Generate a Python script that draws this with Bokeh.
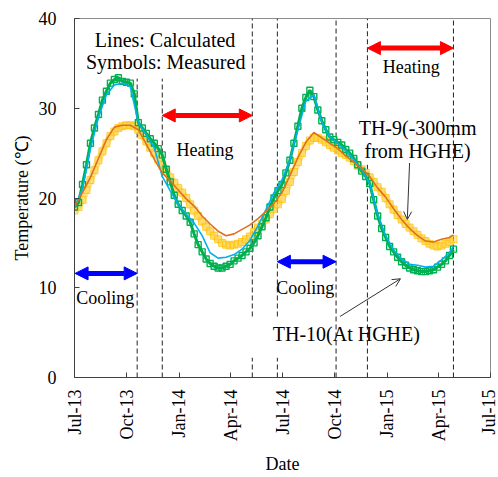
import pandas as pd
from bokeh.plotting import figure
from bokeh.models import (Label, Arrow, NormalHead, OpenHead, FixedTicker,
                          DatetimeTickFormatter, Range1d)
from bokeh.embed import file_html
from bokeh.resources import INLINE

START = "2013-07-01"

# Measured (symbols), weekly days from start
meas_days = list(range(0, 666, 7))
th10_meas = [19.0, 19.5, 21.5, 23.7, 26.1, 27.8, 29.3, 30.9, 31.9, 32.8,
             33.2, 33.4, 33.0, 32.9, 32.8, 31.6, 28.4, 27.8, 27.2, 26.6,
             26.1, 25.5, 24.8, 23.2, 21.8, 20.3, 19.3, 18.6, 18.0, 17.3,
             16.0, 14.8, 14.0, 13.2, 12.7, 12.4, 12.2, 12.2, 12.4, 12.6,
             13.0, 13.3, 13.6, 14.0, 14.4, 15.0, 15.8, 16.8, 17.8, 19.0,
             20.0, 20.8, 21.5, 22.8, 24.2, 26.1, 28.0, 30.0, 31.2, 32.0,
             31.3, 29.8, 28.6, 27.6, 26.8, 26.5, 26.2, 25.9, 25.4, 25.0,
             24.4, 23.7, 23.0, 22.4, 21.6, 19.8, 18.0, 16.6, 15.6, 14.6,
             14.0, 13.4, 12.9, 12.5, 12.2, 12.0, 11.9, 11.8, 11.8, 11.9,
             12.0, 12.3, 12.6, 13.0, 13.6, 14.3]
th9_meas = [18.6, 19.0, 19.8, 20.9, 22.0, 23.1, 24.2, 25.2, 26.1, 26.9,
            27.4, 27.8, 28.0, 28.1, 28.1, 28.0, 27.6, 27.0, 26.3, 25.6,
            25.0, 24.3, 23.7, 23.0, 22.3, 21.7, 21.1, 20.6, 20.0, 19.3,
            18.6, 18.0, 17.4, 16.8, 16.3, 15.8, 15.4, 15.0, 14.8, 14.7,
            14.8, 14.9, 15.1, 15.4, 15.7, 16.2, 16.7, 17.1, 17.6, 18.2,
            18.8, 19.3, 19.9, 20.8, 21.8, 22.9, 24.0, 25.0, 25.8, 26.4,
            26.7, 26.7, 26.5, 26.2, 25.9, 25.6, 25.3, 25.0, 24.8, 24.5,
            24.1, 23.6, 23.2, 22.8, 22.3, 21.8, 21.2, 20.7, 20.0, 19.3,
            18.7, 18.1, 17.6, 17.1, 16.7, 16.3, 15.9, 15.5, 15.2, 14.9,
            14.7, 14.6, 14.7, 14.9, 15.1, 15.4]

# Calculated (lines), days from start
calc_days = list(range(0, 665, 14)) + [665]
th10_calc = [19.0, 21.0, 25.5, 29.0, 31.5, 32.6, 32.8, 32.4, 28.4, 27.0,
             25.6, 22.4, 20.8, 19.3, 18.2, 17.2, 15.8, 13.9, 13.3, 13.4,
             13.7, 14.3, 15.3, 16.9, 18.7, 20.6, 22.0, 24.2, 27.6, 30.8,
             31.5, 28.4, 26.8, 26.1, 25.3, 24.3, 23.1, 21.6, 18.2, 15.8,
             14.2, 13.2, 12.6, 12.5, 12.3, 12.4, 13.1, 13.9, 14.6]
th9_calc = [19.0, 20.6, 22.3, 24.4, 26.5, 27.9, 28.1, 28.1, 27.6, 26.0,
            24.3, 22.8, 21.9, 20.9, 19.9, 19.1, 18.0, 17.1, 16.3, 15.8,
            16.0, 16.5, 17.0, 17.7, 18.5, 19.4, 20.6, 22.5, 24.5, 26.2,
            27.3, 26.7, 26.1, 25.5, 24.7, 24.0, 23.3, 22.4, 21.1, 20.1,
            18.8, 17.6, 16.6, 15.8, 15.2, 15.1, 15.4, 15.6, 15.9]

tick_dates = ["2013-07-01", "2013-10-01", "2014-01-01", "2014-04-01", "2014-07-01",
              "2014-10-01", "2015-01-01", "2015-04-01", "2015-07-01"]
y_ticks = [0, 10, 20, 30, 40]

# period boundaries (dashed lines) and their drawn pieces (y from, y to)
bound_dates = ["2013-10-19", "2013-12-02", "2014-05-09", "2014-06-22",
               "2014-10-03", "2014-11-27", "2015-04-27"]
bound_pieces = [[(0, 33.3)], [(0, 33.3)], [(0, 2.2), (6.8, 40)], [(0, 2.2), (6.8, 40)],
                [(0, 40)], [(0, 23.7), (30.0, 40)], [(0, 40)]]

cooling = [("2013-07-02", "2013-10-19", 11.6), ("2014-06-22", "2014-10-03", 12.9)]
heating = [("2013-12-02", "2014-05-09", 29.2), ("2014-11-27", "2015-04-27", 36.7)]


def ms(d):
    return pd.Timestamp(d).value / 1e6


start = pd.Timestamp(START)
meas_x = [start + pd.Timedelta(days=d) for d in meas_days]
calc_x = [start + pd.Timedelta(days=d) for d in calc_days]

SERIF = "Liberation Serif"

p = figure(width=498, height=477, output_backend="svg", toolbar_location=None,
           x_axis_type="datetime",
           x_range=Range1d(ms("2013-07-01"), ms("2015-07-01")),
           y_range=Range1d(0, 40),
           min_border_left=74, min_border_right=8, min_border_top=18, min_border_bottom=99)
p.background_fill_color = "white"
p.border_fill_color = "white"
p.outline_line_color = "#8c8c8c"
p.grid.visible = False

# Axes
p.xaxis.ticker = FixedTicker(ticks=[ms(d) for d in tick_dates])
fmt = "%b-%y"
p.xaxis.formatter = DatetimeTickFormatter(years=fmt, months=fmt, days=fmt, hours=fmt,
                                          minutes=fmt, seconds=fmt, milliseconds=fmt,
                                          microseconds=fmt, minsec=fmt, hourmin=fmt)
p.xaxis.major_label_orientation = 3.14159265 / 2
p.yaxis.ticker = FixedTicker(ticks=y_ticks)
for ax in (p.xaxis, p.yaxis):
    ax.major_tick_in = 5
    ax.major_tick_out = 0
    ax.minor_tick_in = 0
    ax.minor_tick_out = 0
    ax.axis_line_color = "#404040"
    ax.major_tick_line_color = "#404040"
    ax.major_label_text_font = SERIF
    ax.major_label_text_font_size = "18px"
    ax.major_label_text_color = "black"
    ax.axis_label_text_font = SERIF
    ax.axis_label_text_font_size = "18px"
    ax.axis_label_text_font_style = "normal"
    ax.axis_label_text_color = "black"
p.xaxis.major_label_standoff = 12
p.yaxis.major_label_standoff = 18
p.xaxis.axis_label = "Date"
p.yaxis.axis_label = "Temperature (℃)"
p.xaxis.axis_label_standoff = 10
p.yaxis.axis_label_standoff = 4

# dashed boundaries
sx, sy0, sy1 = [], [], []
for d, pieces in zip(bound_dates, bound_pieces):
    for a, b in pieces:
        sx.append(pd.Timestamp(d))
        sy0.append(a)
        sy1.append(b)
p.segment(x0=sx, y0=sy0, x1=sx, y1=sy1, line_color="#222222", line_width=1, line_dash="5 3")

# data
p.line(meas_x, th9_meas, line_color="#FFC000", line_width=7, line_alpha=0.45)
p.scatter(meas_x, th9_meas, marker="square", size=7, fill_color="#FFD24D", fill_alpha=0.45,
          line_color="#FFC000", line_alpha=0.75, line_width=1)
p.line(meas_x, th10_meas, line_color="#00B050", line_width=3)
p.scatter(meas_x, th10_meas, marker="square", size=6, fill_color=None,
          line_color="#00B050", line_width=1.4)
p.line(calc_x, th10_calc, line_color="#00B0F0", line_width=1.6)
p.line(calc_x, th9_calc, line_color="#E0701C", line_width=1.6)

# period arrows
for a, b, yv in cooling:
    p.add_layout(Arrow(x_start=ms(a), y_start=yv, x_end=ms(b), y_end=yv,
                       line_color="#0000FF", line_width=5,
                       start=NormalHead(size=13, fill_color="#0000FF", line_color="#0000FF"),
                       end=NormalHead(size=13, fill_color="#0000FF", line_color="#0000FF")))
for a, b, yv in heating:
    p.add_layout(Arrow(x_start=ms(a), y_start=yv, x_end=ms(b), y_end=yv,
                       line_color="#FF0000", line_width=5,
                       start=NormalHead(size=13, fill_color="#FF0000", line_color="#FF0000"),
                       end=NormalHead(size=13, fill_color="#FF0000", line_color="#FF0000")))

# pointer arrows
p.add_layout(Arrow(x_start=ms("2015-02-09"), y_start=23.9, x_end=ms("2015-02-05"), y_end=17.6,
                   line_color="#333333", line_width=1,
                   end=OpenHead(size=8, line_color="#333333", line_width=1)))
p.add_layout(Arrow(x_start=ms("2014-10-10"), y_start=6.8, x_end=ms("2015-01-24"), y_end=11.0,
                   line_color="#333333", line_width=1,
                   end=OpenHead(size=8, line_color="#333333", line_width=1)))

texts = [("Lines: Calculated", "2013-12-07", 37.6, "20px"),
         ("Symbols: Measured", "2013-12-08", 35.2, "20px"),
         ("Heating", "2014-02-15", 25.4, "18px"),
         ("Heating", "2015-02-12", 34.6, "18px"),
         ("Cooling", "2013-08-24", 8.9, "18px"),
         ("Cooling", "2014-08-10", 10.0, "18px"),
         ("TH-9(-300mm", "2015-02-23", 27.8, "20px"),
         ("from HGHE)", "2015-02-23", 25.2, "20px"),
         ("TH-10(At HGHE)", "2014-10-21", 4.8, "20px")]
for t, d, yv, fs in texts:
    p.add_layout(Label(x=ms(d), y=yv, text=t, text_align="center", text_baseline="middle",
                       text_font=SERIF, text_font_size=fs, text_color="black"))

open("out.html", "w").write(file_html(p, INLINE))
